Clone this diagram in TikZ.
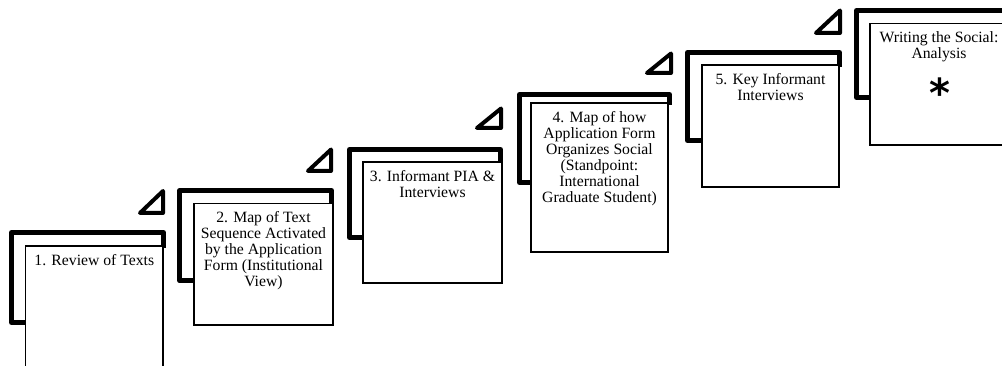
\documentclass[tikz,border=0pt]{standalone}
\usepackage{fontspec}
\setmainfont{Liberation Serif}
\newfontfamily\starfont{DejaVu Sans}
\begin{document}
\begin{tikzpicture}[x=1pt,y=-1pt,
  back/.style={line width=5pt,line join=round},
  tri/.style={line width=4pt,line join=round},
  box/.style={draw,fill=white,line width=1.3pt},
  lbl/.style={anchor=north,inner sep=0pt,align=center,
    font=\fontsize{15.7}{16}\selectfont,execute at begin node=\strut}]
\useasboundingbox (0,0) rectangle (1002,366);
\clip (0,0) rectangle (1002,366);
% back L-shapes and front boxes
\foreach \lx/\ly/\rx/\lb/\bx/\by/\br/\bb in {
  11.5/232.5/163.5/322.5/25.5/246/163/368,
  179.8/190.5/331.5/280.8/194/203.5/333/325,
  349.5/149.5/500.5/237.5/363/162/502/283,
  519.5/94.5/669.5/182.5/531/103/668/252,
  687.5/52.5/839.5/140.5/702/65/839/187,
  856.5/10.5/1006.5/97.5/870/23.5/1008/145}{
  \draw[back] (\bx+2,\lb) -- (\lx,\lb) -- (\lx,\ly) -- (\rx,\ly) -- (\rx,\by+2);
  \draw[box] (\bx,\by) rectangle (\br,\bb);
}
% triangles
\foreach \ax/\bx/\yb/\yt in {
  140/163/213/191,
  308/331/171/149.5,
  477/501/128/108.5,
  647/671/73/53.5,
  816/840/33/10.5}{
  \draw[tri] (\ax,\yb) -- (\bx,\yb) -- (\bx,\yt) -- cycle;
}
% labels
\node[lbl] (t1) at (94.3,253.8) {1. Review of Texts};
\node[lbl] (t2) at (263.5,211.3) {2. Map of Text\\Sequence Activated\\by the Application\\Form (Institutional\\View)};
\node[lbl] (t3) at (432.5,169.8) {3. Informant PIA \&\\Interviews};
\node[lbl] (t4) at (599.5,110.8) {4. Map of how\\Application Form\\Organizes Social\\(Standpoint:\\International\\Graduate Student)};
\node[lbl] (t5) at (770.5,72.8) {5. Key Informant\\Interviews};
\node[lbl] (t6) at (939,31.3) {Writing the Social:\\Analysis};
\node[anchor=north,inner sep=0pt,font=\starfont\bfseries\fontsize{40}{40}\selectfont] (star) at (940,78) {*};
\end{tikzpicture}
\end{document}
